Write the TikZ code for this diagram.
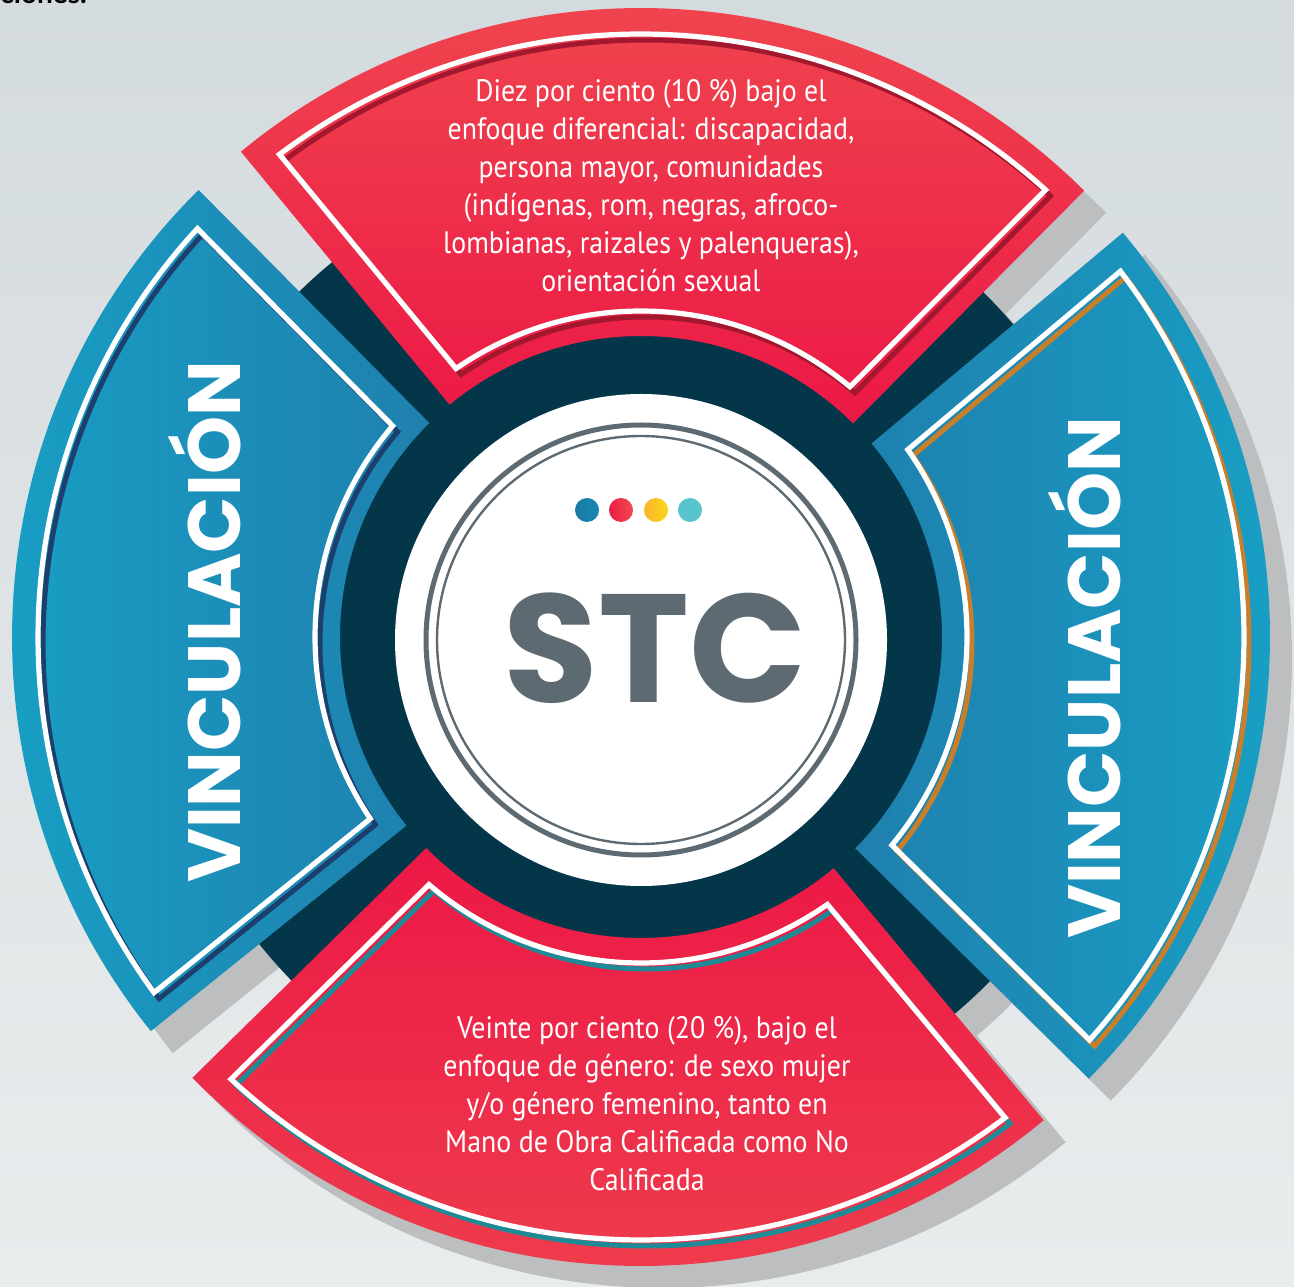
\documentclass[tikz,border=0pt]{standalone}
\usepackage{fontspec}
\newfontfamily\pop{Poppins}
\newfontfamily\ptn{PT Sans}[FakeStretch=0.9]
\definecolor{bgtop}{HTML}{D4DBDE}
\definecolor{bgbot}{HTML}{E9ECED}
\definecolor{shadowc}{HTML}{BDBEC0}
\definecolor{darkring}{HTML}{04364A}
\definecolor{redA}{HTML}{F04B4F}
\definecolor{redB}{HTML}{EC1846}
\definecolor{redC}{HTML}{EF414D}
\definecolor{blueOut}{HTML}{17A2C7}
\definecolor{blueIn}{HTML}{1F80AE}
\definecolor{darkred}{HTML}{A3182E}
\definecolor{navy}{HTML}{1D3F6E}
\definecolor{orangeacc}{HTML}{C97E2A}
\definecolor{tealacc}{HTML}{1E8A96}
\definecolor{stcgray}{HTML}{5E6A72}
\definecolor{dotblue}{HTML}{1A87B5}
\definecolor{dotred}{HTML}{EC1C45}
\definecolor{dotyelA}{HTML}{FBB52B}
\definecolor{dotyelB}{HTML}{F9D71C}
\definecolor{dotteal}{HTML}{58C4CB}
% annular sector, radii 301 / 629 (px), angles #1 -> #2
\newcommand\segP[2]{(#1:301) -- (#1:629) arc[start angle=#1, end angle=#2, radius=629] -- (#2:301) arc[start angle=#2, end angle=#1, radius=301] -- cycle}
% inner white outline: arcs 326 / 603, sides offset 28 px inward
\newcommand\segW[2]{(#1+2.66:603) arc[start angle=#1+2.66, end angle=#2-2.66, radius=603] -- (#2-4.93:326) arc[start angle=#2-4.93, end angle=#1+4.93, radius=326] -- cycle}
\begin{document}
\begin{tikzpicture}[x=0.5pt,y=0.5pt,
  dropshadow/.style={fill=shadowc,transform canvas={shift={(11pt,-11pt)}}},
  accent/.style={draw=#1,line width=2.5pt,line join=miter,transform canvas={shift={(2.5pt,-3pt)}}},
  whiteline/.style={draw=white,line width=2.6pt,line join=miter},
  bodytext/.style={text=white,align=center,font=\ptn\fontsize{15.5}{19}\selectfont},
  vinc/.style={text=white,rotate=90,font=\pop\bfseries\fontsize{37}{40}\selectfont},
  dot/.style={circle,inner sep=0pt,minimum size=12pt}]
\useasboundingbox (0,0) rectangle (1294,1286);
\clip (0,0) rectangle (1294,1286);
\shade[top color=bgtop,bottom color=bgbot] (0,0) rectangle (1294,1286);
\node[anchor=base west,inner sep=0pt,font=\fontspec{Lato}\bfseries\fontsize{14}{16}\selectfont] (top) at (0,1282) {ciones.};
\coordinate (C) at (641,649);
\coordinate (D) at (641,646);
% shadows and dark disk
\fill[dropshadow] (D) circle[radius=244pt];
\begin{scope}[shift={(C)}]
\fill[dropshadow] \segP{45.2}{129.5};
\fill[dropshadow] \segP{134.7}{218.8};
\fill[dropshadow] \segP{224.5}{309.8};
\fill[dropshadow] \segP{315.4}{400};
\end{scope}
\fill[darkring] (D) circle[radius=244pt];
\begin{scope}[shift={(C)}]
% segments
\shade[top color=redA,bottom color=redB] \segP{45.2}{129.5};
\shade[left color=blueOut,right color=blueIn] \segP{134.7}{218.8};
\shade[top color=redB,bottom color=redC] \segP{224.5}{309.8};
\shade[left color=blueIn,right color=blueOut] \segP{315.4}{400};
% accents
\draw[accent=darkred] \segW{45.2}{129.5};
\draw[accent=navy] \segW{134.7}{218.8};
\draw[accent=tealacc] \segW{224.5}{309.8};
\draw[accent=orangeacc] \segW{315.4}{400};
% white outlines
\draw[whiteline] \segW{45.2}{129.5};
\draw[whiteline] \segW{134.7}{218.8};
\draw[whiteline] \segW{224.5}{309.8};
\draw[whiteline] \segW{315.4}{400};
\end{scope}
% centre
\fill[white] (D) circle[radius=123pt];
\draw[stcgray,line width=2.5pt] (D) circle[radius=107.5pt];
\draw[stcgray,line width=1.2pt] (D) circle[radius=102pt];
\node[dot,left color=dotblue!90!black,right color=dotblue] (d1) at (587,776) {};
\node[dot,left color=dotred,right color=redA] (d2) at (621,776) {};
\node[dot,left color=dotyelA,right color=dotyelB] (d3) at (656,776) {};
\node[dot,fill=dotteal] (d4) at (690,776) {};
\node[text=stcgray,font=\pop\bfseries\fontsize{77}{77}\selectfont] (stc) at (655,638) {STC};
% texts
\node[bodytext] (t1) at (651,1100) {Diez por ciento (10 \%) bajo el\\enfoque diferencial: discapacidad,\\persona mayor, comunidades\\(indígenas, rom, negras, afroco-\\lombianas, raizales y palenqueras),\\orientación sexual};
\node[bodytext] (t2) at (647,182) {Veinte por ciento (20 \%), bajo el\\enfoque de género: de sexo mujer\\y/o género femenino, tanto en\\Mano de Obra Calificada como No\\Calificada};
\node[vinc] (v1) at (205,664) {VINCULACIÓN};
\node[vinc] (v2) at (1085,608) {VINCULACIÓN};
\end{tikzpicture}
\end{document}
